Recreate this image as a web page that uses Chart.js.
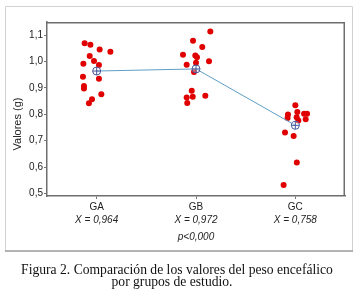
<!DOCTYPE html>
<html><head><meta charset="utf-8">
<script src="https://cdn.jsdelivr.net/npm/chart.js@4.4.1/dist/chart.umd.min.js"></script>
<style>html,body{margin:0;padding:0;background:#fff}#wrap{position:relative;width:360px;height:302px}canvas{display:block}</style>
</head><body><div id="wrap"><canvas id="c" width="360" height="302"></canvas></div>
<script>
// ---- data ----
const categories = ['GA', 'GB', 'GC'];
const meanValues = [0.964, 0.972, 0.758];
const meanLabels = ['X = 0,964', 'X = 0,972', 'X = 0,758'];
const pLabel = 'p<0,000';
const yTitle = 'Valores (g)';
const yTickValues = [0.5, 0.6, 0.7, 0.8, 0.9, 1.0, 1.1];
const captionLines = ['Figura 2. Comparación de los valores del peso encefálico', 'por grupos de estudio.'];

// individual observations (jitter offset around category, value)
const gaJitter = [-0.121, -0.063, 0.030, 0.138, -0.070, -0.027, -0.134, 0.023, -0.138, 0.023, -0.128, -0.128, 0.047, -0.047, -0.078];
const gaValues = [1.069, 1.064, 1.046, 1.037, 1.021, 1.002, 0.992, 0.987, 0.942, 0.935, 0.907, 0.898, 0.876, 0.857, 0.842];
const gbJitter = [0.144, -0.030, 0.063, -0.131, -0.007, 0.010, -0.094, 0.000, 0.131, -0.020, -0.043, -0.094, -0.033, 0.094, -0.088];
const gbValues = [1.114, 1.079, 1.055, 1.026, 1.023, 1.016, 0.988, 0.995, 1.001, 0.960, 0.889, 0.864, 0.866, 0.870, 0.843];
const gcJitter = [0.000, -0.074, 0.020, 0.088, 0.118, -0.078, 0.013, 0.104, 0.030, -0.104, -0.017, 0.015, -0.118];
const gcValues = [0.834, 0.799, 0.809, 0.802, 0.802, 0.786, 0.789, 0.781, 0.776, 0.731, 0.718, 0.617, 0.532];

const groups = [[gaJitter, gaValues], [gbJitter, gbValues], [gcJitter, gcValues]];
const pts = (i) => groups[i][1].map((v, k) => ({x: i + 1 + groups[i][0][k], y: v}));
const meanPts = meanValues.map((v, i) => ({x: i + 1, y: v}));

const RED = '#e00000';
const SANS = '"Liberation Sans", Arial, sans-serif';

const framePlugin = {
  id: 'frame',
  beforeDraw(chart) {
    const ctx = chart.ctx;
    ctx.save();
    ctx.fillStyle = '#fff';
    ctx.fillRect(0, 0, chart.width, chart.height);
    ctx.strokeStyle = '#d2d2d2';
    ctx.lineWidth = 1;
    ctx.beginPath();
    ctx.moveTo(5.5, 251); ctx.lineTo(5.5, 6.5); ctx.lineTo(352.5, 6.5); ctx.lineTo(352.5, 251);
    ctx.stroke();
    ctx.strokeStyle = '#9a9a9a';
    ctx.lineWidth = 1.5;
    ctx.beginPath(); ctx.moveTo(5, 251); ctx.lineTo(353, 251); ctx.stroke();
    ctx.restore();
  },
  afterDraw(chart) {
    const ctx = chart.ctx;
    const a = chart.chartArea;
    ctx.save();
    // plot box top/right
    ctx.strokeStyle = '#6e6e6e';
    ctx.lineWidth = 1.5;
    ctx.beginPath();
    ctx.moveTo(a.left, a.top + 0.75); ctx.lineTo(a.right - 0.75, a.top + 0.75); ctx.lineTo(a.right - 0.75, a.bottom);
    ctx.stroke();
    // y title
    ctx.fillStyle = '#222';
    ctx.font = '11px ' + SANS;
    ctx.textAlign = 'center';
    ctx.textBaseline = 'middle';
    ctx.translate(18, 124);
    ctx.rotate(-Math.PI / 2);
    ctx.fillText(yTitle, 0, 0);
    ctx.restore();
    // caption
    ctx.save();
    ctx.fillStyle = '#111';
    ctx.textAlign = 'center';
    ctx.textBaseline = 'alphabetic';
    ctx.font = '12px "Liberation Serif", "Times New Roman", serif';
    let w = ctx.measureText(captionLines[0]).width;
    const fs = 12 * 312 / w;
    ctx.font = fs.toFixed(2) + 'px "Liberation Serif", "Times New Roman", serif';
    ctx.fillText(captionLines[0], 177, 274);
    ctx.fillText(captionLines[1], 172, 286);
    ctx.restore();
  }
};

new Chart(document.getElementById('c'), {
  type: 'scatter',
  data: {
    datasets: [
      {type: 'scatter', data: meanPts, pointStyle: 'cross', pointRadius: 4, borderColor: '#4a5a9c', borderWidth: 1, backgroundColor: 'transparent', showLine: false, xAxisID: 'x', yAxisID: 'y'},
      {type: 'line', data: meanPts, borderColor: '#5f9fc6', borderWidth: 1, pointStyle: 'circle', pointRadius: 4, pointBorderColor: '#4a5a9c', pointBorderWidth: 1, pointBackgroundColor: 'rgba(255,255,255,0.35)', fill: false, tension: 0, xAxisID: 'x', yAxisID: 'y'},
      {data: pts(0), backgroundColor: RED, borderColor: RED, pointRadius: 3, pointBorderWidth: 0, xAxisID: 'x', yAxisID: 'y'},
      {data: pts(1), backgroundColor: RED, borderColor: RED, pointRadius: 3, pointBorderWidth: 0, xAxisID: 'x', yAxisID: 'y'},
      {data: pts(2), backgroundColor: RED, borderColor: RED, pointRadius: 3, pointBorderWidth: 0, xAxisID: 'x', yAxisID: 'y'}
    ]
  },
  options: {
    responsive: false,
    devicePixelRatio: 1,
    animation: false,
    events: [],
    layout: {padding: {left: 0, top: 22, right: 15, bottom: 59}},
    plugins: {legend: {display: false}, tooltip: {enabled: false}, title: {display: false}},
    scales: {
      x: {
        type: 'linear', position: 'bottom', min: 0.5, max: 3.5,
        afterBuildTicks: (s) => { s.ticks = categories.map((c, i) => ({value: i + 1})); },
        afterFit: (s) => { s.height = 18; },
        grid: {display: true, drawOnChartArea: false, drawTicks: true, tickLength: 3, color: '#777', tickWidth: 1},
        border: {display: true, color: '#6e6e6e', width: 1.5},
        ticks: {padding: 2, color: '#222', font: {family: SANS, size: 10}, maxRotation: 0, autoSkip: false,
          callback: (v) => categories[Math.round(v) - 1] || ''}
      },
      x2: {
        type: 'linear', position: 'bottom', min: 0.5, max: 3.5,
        afterBuildTicks: (s) => { s.ticks = meanLabels.map((c, i) => ({value: i + 1})); },
        afterFit: (s) => { s.height = 29; },
        grid: {display: false, drawTicks: false, tickLength: 0},
        border: {display: false},
        ticks: {padding: 0, color: '#222', font: {family: SANS, size: 10, style: 'italic'}, maxRotation: 0, autoSkip: false,
          callback: (v) => meanLabels[Math.round(v) - 1] || ''},
        title: {display: true, text: pLabel, color: '#222', font: {family: SANS, size: 10, style: 'italic'}, padding: {top: 0, bottom: 0}}
      },
      y: {
        type: 'linear', min: 0.49, max: 1.15,
        afterBuildTicks: (s) => { s.ticks = yTickValues.map(v => ({value: v})); },
        afterFit: (s) => { s.width = 47; },
        grid: {display: true, drawOnChartArea: false, drawTicks: true, tickLength: 3, color: '#777'},
        border: {display: true, color: '#6e6e6e', width: 1.5},
        ticks: {padding: 1, color: '#222', font: {family: SANS, size: 10},
          callback: (v) => v.toFixed(1).replace('.', ',')}
      }
    }
  },
  plugins: [framePlugin]
});
</script>
</body></html>
